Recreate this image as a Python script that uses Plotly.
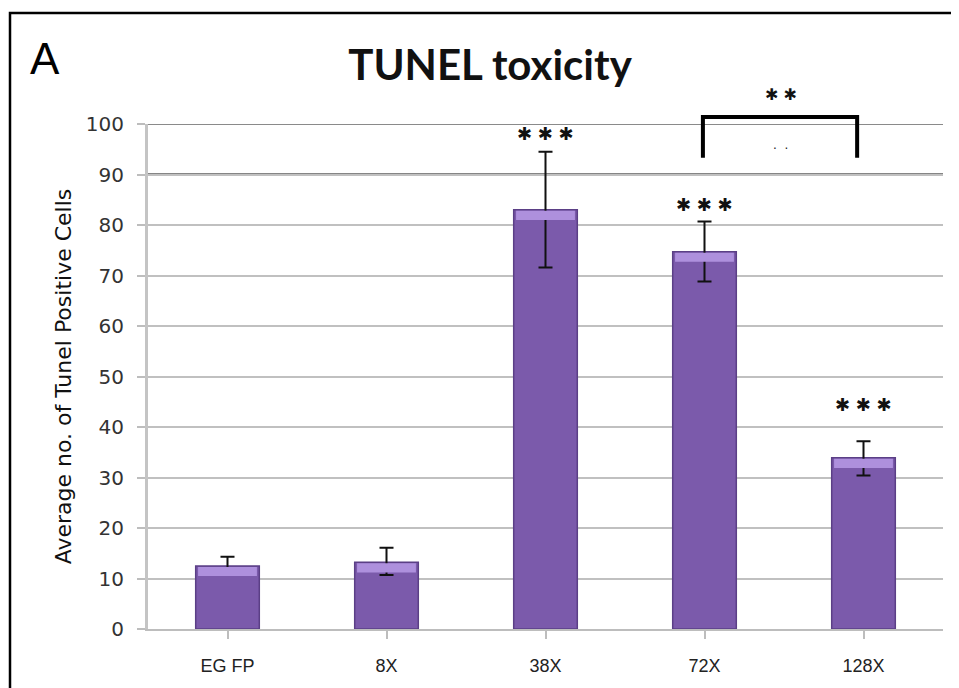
import plotly.graph_objects as go

categories = ["EG FP", "8X", "38X", "72X", "128X"]
means = [12.5, 13.2, 83.0, 74.7, 33.9]
err_plus = [1.8, 2.9, 11.5, 6.0, 3.3]
err_minus = [1.3, 2.5, 11.4, 5.9, 3.5]
star_labels = ["", "", "✱ ✱ ✱", "✱ ✱ ✱", "✱ ✱ ✱"]
star_y = [0, 0, 98.2, 84.0, 44.4]
y_ticks = [0, 10, 20, 30, 40, 50, 60, 70, 80, 90, 100]

# bracket comparison between 72X and 128X
bracket_from, bracket_to = 3, 4
bracket_top, bracket_bottom = 101.4, 93.3
bracket_label = "✱ ✱"
bracket_label_y = 105.8

Y_MAX = 100.0

fig = go.Figure()
fig.add_trace(go.Bar(
    x=list(range(len(categories))), y=means,
    width=0.4,
    marker=dict(color="#7B5AAB", line=dict(color="#5B3F86", width=1.5)),
    error_y=dict(type="data", array=err_plus, arrayminus=err_minus,
                 color="#111111", thickness=2, width=7),
    showlegend=False,
))

# lighter top highlight on bars
fig.add_trace(go.Bar(
    x=list(range(len(categories))), y=[1.8] * len(means), base=[m - 2.0 for m in means],
    width=0.37,
    marker=dict(color="#AE90DD", line=dict(width=0)),
    showlegend=False, hoverinfo="skip",
))

fig.update_layout(barmode="overlay")

# stars
for i, (lab, yy) in enumerate(zip(star_labels, star_y)):
    if lab:
        fig.add_annotation(x=i, y=yy, text=lab, showarrow=False,
                           font=dict(family="DejaVu Sans", size=18, color="#111111"),
                           yanchor="middle")

# significance bracket (x on category axis, y in paper units = value / Y_MAX)
fig.add_shape(type="path", xref="x", yref="paper",
              path=f"M {bracket_from - 0.01},{bracket_bottom / Y_MAX} L {bracket_from - 0.01},{bracket_top / Y_MAX} "
                   f"L {bracket_to - 0.04},{bracket_top / Y_MAX} L {bracket_to - 0.04},{bracket_bottom / Y_MAX}",
              line=dict(color="#000000", width=4))
fig.add_annotation(x=(bracket_from + bracket_to) / 2 - 0.02, xref="x", yref="paper",
                   y=bracket_label_y / Y_MAX, text=bracket_label, yanchor="middle",
                   showarrow=False, font=dict(family="DejaVu Sans", size=16, color="#111111"))
fig.add_annotation(x=(bracket_from + bracket_to) / 2 - 0.02, y=95.0, text="·  ·", yanchor="middle",
                   showarrow=False, font=dict(family="DejaVu Sans", size=12, color="#222222"))

# darker gridlines at 90 and 100
fig.add_shape(type="line", xref="paper", yref="y", x0=0, x1=1, y0=90, y1=90,
              line=dict(color="#858585", width=3), layer="below")
fig.add_shape(type="line", xref="paper", yref="y", x0=0, x1=1, y0=100, y1=100,
              line=dict(color="#8A8A8A", width=2), layer="below")

# outer frame (page has 8px body margin)
L, T, B, R = 140, 116, 59, 16
W, H = 951, 680
PW, PH = W - L - R, H - T - B
fig.add_shape(type="rect", xref="paper", yref="paper",
              x0=(2 - L) / PW, x1=1.5, y0=-0.5, y1=(H - B - 5) / PH,
              line=dict(color="#000000", width=2.5))

fig.update_layout(
    width=W, height=H,
    margin=dict(l=L, r=R, t=T, b=B),
    paper_bgcolor="white", plot_bgcolor="white",
    title=dict(text="TUNEL toxicity", x=(490 - 8) / W, xanchor="center", y=1 - (65 - 8) / H,
               yanchor="middle", font=dict(family="Lato", size=42, weight=700, color="#111111")),
    xaxis=dict(
        tickmode="array", tickvals=list(range(len(categories))), ticktext=categories,
        range=[-0.5, len(categories) - 0.5],
        showline=True, linecolor="#BDBDBD", linewidth=2,
        ticks="outside", ticklen=8, tickcolor="#BDBDBD", tickwidth=1.5,
        tickson="boundaries", showgrid=False, ticklabelstandoff=11,
        tickfont=dict(family="Liberation Sans Narrow, Liberation Sans", size=18, color="#222222"),
    ),
    yaxis=dict(
        range=[0, Y_MAX], tickvals=y_ticks,
        showline=True, linecolor="#C4C4C4", linewidth=3,
        ticks="outside", ticklen=8, tickcolor="#BDBDBD", tickwidth=2,
        showgrid=True, gridcolor="#C0C0C0", gridwidth=2,
        zeroline=False, ticklabelstandoff=9,
        tickfont=dict(family="DejaVu Sans", size=20, color="#333333"),
        title=dict(text="Average no. of Tunel Positive Cells", standoff=9,
                   font=dict(family="DejaVu Sans", size=22, color="#111111")),
    ),
)

fig.add_annotation(xref="paper", yref="paper", x=(45 - 8 - L) / PW, y=(H - B - (58 - 8)) / PH,
                   xanchor="center", yanchor="middle",
                   text="A", showarrow=False,
                   font=dict(family="Liberation Sans", size=44, color="#000000"))

fig.write_html("out.html")
